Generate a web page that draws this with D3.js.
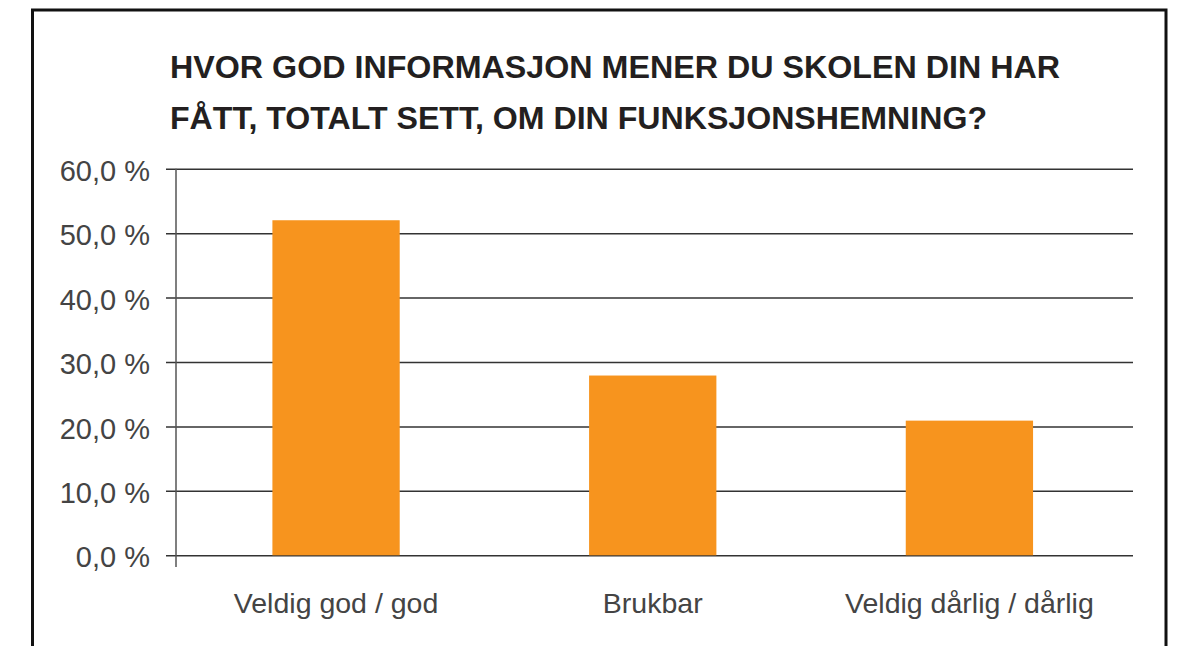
<!DOCTYPE html>
<html>
<head>
<meta charset="utf-8">
<script src="https://cdn.jsdelivr.net/npm/d3@7"></script>
<style>
  html, body { margin: 0; padding: 0; background: #fff; }
  svg { display: block; }
</style>
</head>
<body>
<svg id="chart" width="1180" height="646"></svg>
<script>
const titleLines = ["HVOR GOD INFORMASJON MENER DU SKOLEN DIN HAR", "FÅTT, TOTALT SETT, OM DIN FUNKSJONSHEMNING?"];
const categories = ["Veldig god / god", "Brukbar", "Veldig dårlig / dårlig"];
const values = [52.0, 27.9, 20.9];
const tickValues = [0, 10, 20, 30, 40, 50, 60];

const svg = d3.select("#chart");
const plot = { left: 176, right: 1133, top: 168.7, bottom: 555.3 };
const titleWidths = [890, 817];

// frame
svg.append("rect")
  .attr("x", 32.5).attr("y", 10)
  .attr("width", 1133.5).attr("height", 700)
  .attr("fill", "none").attr("stroke", "#111").attr("stroke-width", 3);

// title
const title = svg.append("g").attr("font-family", "'Liberation Sans', Arial, sans-serif")
  .attr("font-weight", "bold").attr("fill", "#231f20").attr("font-size", 30.5);
titleLines.forEach((t, i) => {
  title.append("text").attr("x", 170).attr("y", 78 + i * 51)
    .attr("textLength", titleWidths[i]).attr("lengthAdjust", "spacingAndGlyphs")
    .text(t);
});

const x = d3.scaleBand().domain(categories)
  .range([plot.left, plot.right]).paddingInner(0.598).paddingOuter(0.31).align(0.491);
const y = d3.scaleLinear().domain([0, 60]).range([plot.bottom, plot.top]);

// gridlines
const yAxis = d3.axisLeft(y).tickValues(tickValues)
  .tickSize(-(plot.right - plot.left))
  .tickFormat(d => d3.format(".1f")(d).replace(".", ",") + " %")
  .tickPadding(26);
const gy = svg.append("g").attr("transform", `translate(${plot.left},0)`).call(yAxis);
gy.select(".domain").remove();
gy.selectAll(".tick line").attr("stroke", "#333").attr("stroke-width", 1.5).attr("x1", -10);
gy.selectAll(".tick text")
  .attr("font-family", "'Liberation Sans', Arial, sans-serif")
  .attr("font-size", 29).attr("fill", "#444").attr("dy", "0.4em");

// bars
svg.append("g").selectAll("rect").data(categories).join("rect")
  .attr("x", d => x(d)).attr("width", x.bandwidth())
  .attr("y", (d, i) => y(values[i]))
  .attr("height", (d, i) => y(0) - y(values[i]))
  .attr("fill", "#f7941e");

// vertical axis line
svg.append("line").attr("x1", plot.left).attr("x2", plot.left)
  .attr("y1", plot.top).attr("y2", 567)
  .attr("stroke", "#555").attr("stroke-width", 1.5);

// x labels
const xAxis = d3.axisBottom(x).tickSize(0).tickPadding(0);
const gx = svg.append("g").attr("transform", `translate(0,${plot.bottom})`).call(xAxis);
gx.select(".domain").remove();
gx.selectAll(".tick text")
  .attr("font-family", "'Liberation Sans', Arial, sans-serif")
  .attr("font-size", 28.5).attr("fill", "#444")
  .attr("dy", 0).attr("y", 58);
</script>
</body>
</html>
